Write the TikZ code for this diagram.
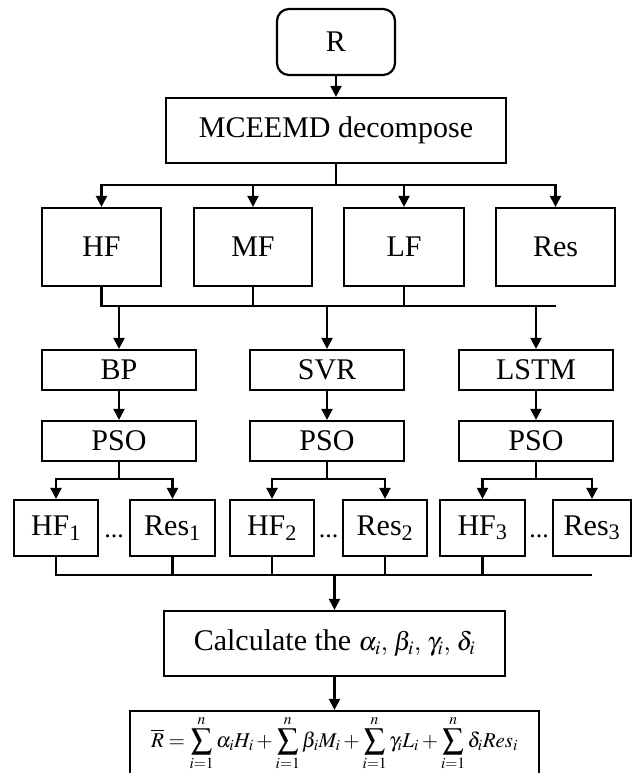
\documentclass[tikz,border=0pt]{standalone}
\usepackage{mathptmx}
\usepackage{fontspec}
\setmainfont{Liberation Serif}
\usepackage{tikz}
\usetikzlibrary{arrows.meta,positioning,calc}

\begin{document}
\begin{tikzpicture}[%
    >={Triangle[length=11pt,width=11pt]},   % filled heads as in the figure
    x=1pt,
    y=-1pt,
    line width=2.2pt,
    blk/.style={draw, inner sep=0pt, font={\fontsize{30}{36}\selectfont}},
    dotsnode/.style={inner sep=0pt, anchor=base, font={\fontsize{26}{30}\selectfont}}
    ]

    \useasboundingbox (0,0) rectangle (634,773);
    \clip (0,0) rectangle (634,773);

    % top of the chart
    \node at (336,42) [blk, rounded corners=12pt, minimum width=118pt, minimum height=66pt] (r) {R};
    \node at (336,130.5) [blk, minimum width=340pt, minimum height=65pt] (mceemd) {MCEEMD decompose};
        \draw [->] (r) -- (mceemd);

    \node at (101.5,247) [blk, minimum width=119pt, minimum height=78pt] (hf) {HF};
    \node at (253,247) [blk, minimum width=118pt, minimum height=78pt] (mf) {MF};
    \node at (404,247) [blk, minimum width=120pt, minimum height=78pt] (lf) {LF};
    \node at (555.5,247) [blk, minimum width=119pt, minimum height=78pt] (res) {Res};

    \coordinate (split) at (336,185);
        \draw (mceemd) -- (split);
        \draw [->] (split) -| (hf);
        \draw [->] (split) -| (mf);
        \draw [->] (split) -| (lf);
        \draw [->] (split) -| (res);

    % models and optimisation
    \node at (119,370) [blk, minimum width=154pt, minimum height=40pt] (bp) {BP};
    \node at (327,370) [blk, minimum width=154pt, minimum height=40pt] (svr) {SVR};
    \node at (536,370) [blk, minimum width=154pt, minimum height=40pt] (lstm) {LSTM};

    \coordinate (merge) at (336,306);
        \draw (hf) -- (hf |- merge) -- (res |- merge);
        \draw (mf) -- (mf |- merge);
        \draw (lf) -- (lf |- merge);
        \draw [->] (bp |- merge) -- (bp);
        \draw [->] (svr |- merge) -- (svr);
        \draw [->] (lstm |- merge) -- (lstm);

    \node at (119,441) [blk, minimum width=154pt, minimum height=40pt] (psoa) {PSO};
    \node at (327,441) [blk, minimum width=154pt, minimum height=40pt] (psob) {PSO};
    \node at (536,441) [blk, minimum width=154pt, minimum height=40pt] (psoc) {PSO};
        \draw [->] (bp) -- (psoa);
        \draw [->] (svr) -- (psob);
        \draw [->] (lstm) -- (psoc);

    % components per model
    \node at (56,528) [blk, minimum width=84pt, minimum height=56pt] (hfa) {HF\textsubscript{1}};
    \node at (172.5,528) [blk, minimum width=85pt, minimum height=56pt] (resa) {Res\textsubscript{1}};
    \node at (272,528) [blk, minimum width=84pt, minimum height=56pt] (hfb) {HF\textsubscript{2}};
    \node at (385,528) [blk, minimum width=84pt, minimum height=56pt] (resb) {Res\textsubscript{2}};
    \node at (482.5,528) [blk, minimum width=85pt, minimum height=56pt] (hfc) {HF\textsubscript{3}};
    \node at (592,528) [blk, minimum width=78pt, minimum height=56pt] (resc) {Res\textsubscript{3}};
    \node at (114,537) [dotsnode] (dotsa) {...};
    \node at (328.5,537) [dotsnode] (dotsb) {...};
    \node at (539,537) [dotsnode] (dotsc) {...};

    \coordinate (fork) at (0,479);
        \draw (psoa) -- (psoa |- fork);
        \draw [->] (psoa |- fork) -| (hfa);
        \draw [->] (psoa |- fork) -| (resa);
        \draw (psob) -- (psob |- fork);
        \draw [->] (psob |- fork) -| (hfb);
        \draw [->] (psob |- fork) -| (resb);
        \draw (psoc) -- (psoc |- fork);
        \draw [->] (psoc |- fork) -| (hfc);
        \draw [->] (psoc |- fork) -| (resc);

    % weights and final result (box runs past the lower edge)
    \node at (334.5,643.5) [blk, minimum width=341pt, minimum height=65pt] (calc)
        {Calculate the {\fontsize{26}{30}\selectfont$\alpha_i,\,\beta_i,\,\gamma_i,\,\delta_i$}};
    \node at (334.5,749) [blk, minimum width=409pt, minimum height=76pt, text height=20pt, text depth=24pt, font={\fontsize{21}{25}\selectfont}] (result)
        {$\displaystyle \overline{R}=\sum_{i=1}^{n}\alpha_iH_i+\sum_{i=1}^{n}\beta_iM_i+\sum_{i=1}^{n}\gamma_iL_i+\sum_{i=1}^{n}\delta_i Res_i$};

    \coordinate (join) at (0,575);
        \draw (hfa) -- (hfa |- join) -- (resc |- join);
        \draw (resa) -- (resa |- join);
        \draw (hfb) -- (hfb |- join);
        \draw (resb) -- (resb |- join);
        \draw (hfc) -- (hfc |- join);
        \draw [->] (calc |- join) -- (calc);
        \draw [->] (calc) -- (result);
\end{tikzpicture}
\end{document}
